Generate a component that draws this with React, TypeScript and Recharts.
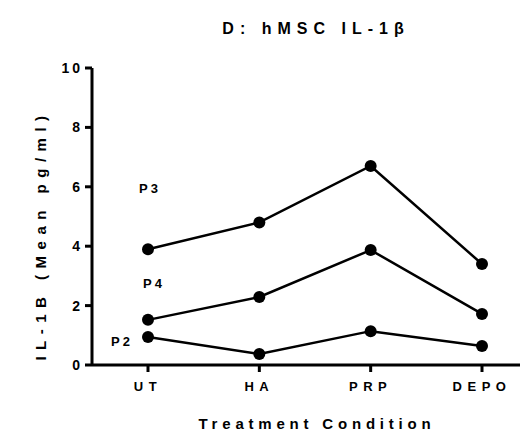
import React from "react";
import { LineChart, Line, XAxis, YAxis, ReferenceDot } from "recharts";

const categories = ["UT", "HA", "PRP", "DEPO"];
const p3 = [3.9, 4.8, 6.7, 3.4];
const p4 = [1.52, 2.29, 3.87, 1.72];
const p2 = [0.94, 0.37, 1.14, 0.64];
const yTicks = [0, 2, 4, 6, 8, 10];
const seriesLabels = [
  { name: "P3", x: "UT", y: 5.93, dx: 2 },
  { name: "P4", x: "UT", y: 2.76, dx: 6 },
  { name: "P2", x: "UT", y: 0.78, dx: -26 },
];

const data = categories.map((c, i) => ({ cat: c, p3: p3[i], p4: p4[i], p2: p2[i] }));

const FONT = "'Liberation Sans', Arial, sans-serif";

const makeLabel = (name: string, dx: number) => (props: any) => {
  const { viewBox } = props;
  const cx = viewBox.x + viewBox.width / 2 + dx;
  const cy = viewBox.y + viewBox.height / 2;
  return (
    <text x={cx} y={cy} textAnchor="middle" dominantBaseline="central" fontFamily={FONT} fontWeight="bold" fontSize={13} letterSpacing={3} fill="#000">
      {name}
    </text>
  );
};

export default function App() {
  return (
    <div style={{ position: "absolute", left: 0, top: 0, background: "#fff" }}>
      <LineChart width={522} height={433} data={data} margin={{ top: 68, right: 2, bottom: 28, left: 32 }}>
        <text x={316} y={28} textAnchor="middle" dominantBaseline="central" fontFamily={FONT} fontWeight="bold" fontSize={16} letterSpacing={6} fill="#000">
          D: hMSC IL-1β
        </text>
        <text x={40} y={235} textAnchor="middle" dominantBaseline="central" transform="rotate(-90 40 235)" fontFamily={FONT} fontWeight="bold" fontSize={15} letterSpacing={6.5} fill="#000">
          IL-1B (Mean pg/ml)
        </text>
        <text x={317} y={423} textAnchor="middle" dominantBaseline="central" fontFamily={FONT} fontWeight="bold" fontSize={15} letterSpacing={4.8} fill="#000">
          Treatment Condition
        </text>
        <XAxis
          dataKey="cat"
          height={40}
          padding={{ left: 56, right: 38 }}
          stroke="#000"
          axisLine={{ stroke: "#000", strokeWidth: 3 }}
          tickLine={{ stroke: "#000", strokeWidth: 3 }}
          tickSize={7}
          tickMargin={10}
          tick={{ fill: "#000", fontFamily: FONT, fontWeight: "bold", fontSize: 13, letterSpacing: 5.5 }}
          interval={0}
        />
        <YAxis
          width={60}
          domain={[0, 10]}
          ticks={yTicks}
          stroke="#000"
          axisLine={{ stroke: "#000", strokeWidth: 3 }}
          tickLine={{ stroke: "#000", strokeWidth: 3 }}
          tickSize={7}
          tickMargin={2}
          tick={{ fill: "#000", fontFamily: FONT, fontWeight: "bold", fontSize: 14, letterSpacing: 3 }}
        />
        {[["p3"], ["p4"], ["p2"]].map(([k]) => (
          <Line
            key={k}
            dataKey={k}
            stroke="#000"
            strokeWidth={2.5}
            dot={{ r: 6, fill: "#000", stroke: "#000", strokeWidth: 0 }}
            isAnimationActive={false}
          />
        ))}
        {seriesLabels.map((l) => (
          <ReferenceDot key={l.name} x={l.x} y={l.y} r={0} stroke="none" fill="none" ifOverflow="visible" label={makeLabel(l.name, l.dx)} />
        ))}
      </LineChart>
    </div>
  );
}
